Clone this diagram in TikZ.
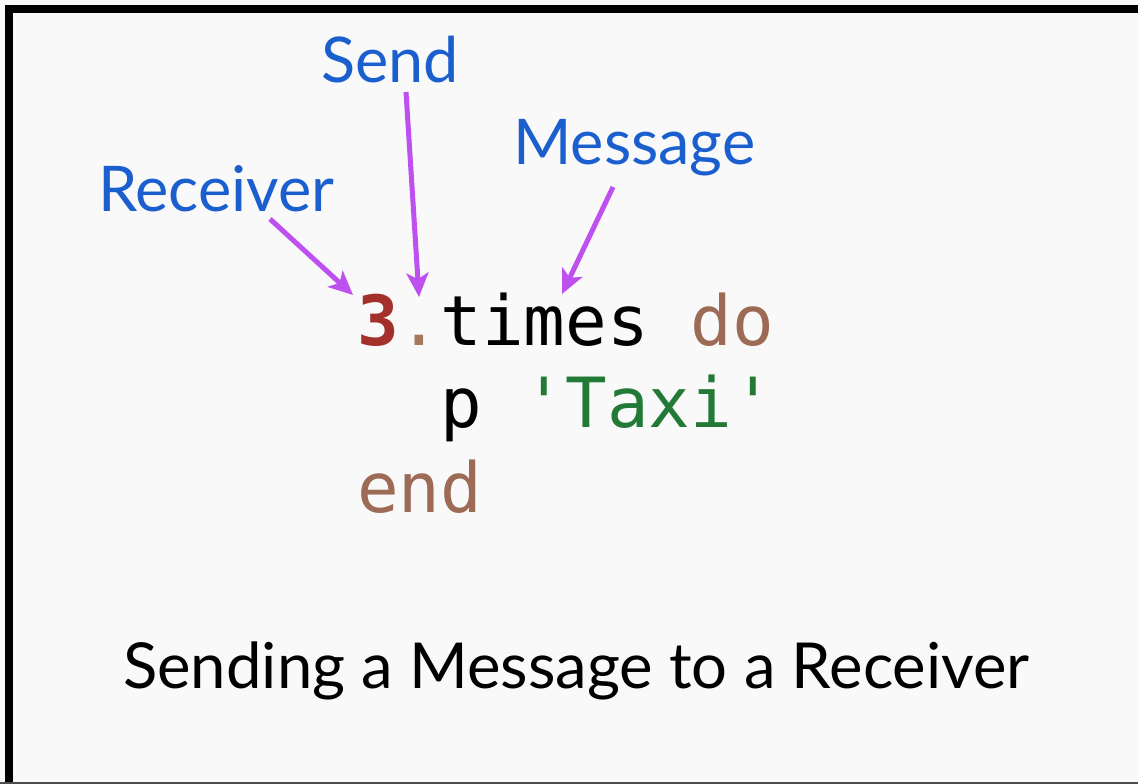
\documentclass[tikz,border=0pt]{standalone}
\usepackage{fontspec}
\setmainfont{Lato}
\setmonofont{DejaVu Sans Mono}
\usetikzlibrary{arrows.meta}
\definecolor{paper}{HTML}{F9F9F9}
\definecolor{labelblue}{HTML}{1B5FCF}
\definecolor{ptrpurple}{HTML}{BE50F0}
\definecolor{numred}{HTML}{A3302B}
\definecolor{dotbrown}{HTML}{A8785E}
\definecolor{kwbrown}{HTML}{9C6A55}
\definecolor{strgreen}{HTML}{237A37}
\tikzset{
  lbl/.style={anchor=base west, inner sep=0pt, text=labelblue, font=\fontsize{63}{70}\selectfont},
  code/.style={anchor=base west, inner sep=0pt, font=\ttfamily\fontsize{69.2}{80}\selectfont},
  caption/.style={anchor=base west, inner sep=0pt, font=\fontsize{63.4}{70}\selectfont},
  ptr/.style={draw=ptrpurple, line width=5pt, -{Stealth[length=24pt,width=22pt,inset=6pt]}},
}
\begin{document}
\begin{tikzpicture}[x=1pt,y=-1pt]
  % page and frame
  \fill[paper] (0,0) rectangle (1138,784);
  \useasboundingbox (0,0) rectangle (1138,784);
  \fill[black] (5,5) rectangle (1138,13);
  \fill[black] (5,5) rectangle (13,784);
  \fill[black!70] (0,781.5) rectangle (1138,784);

  % labels
  \node[lbl] (send) at (321,83) {Send};
  \node[lbl] (msg) at (513,164) {Message};
  \node[lbl] (recv) at (98,211) {Receiver};

  % code block
  \node[code] (l1) at (357,345) {{\color{numred}\bfseries 3}{\color{dotbrown}.}times {\color{kwbrown}do}};
  \node[code] (l2) at (440.3,427) {p {\color{strgreen}'Taxi'}};
  \node[code, text=kwbrown] (l3) at (357,512) {end};

  % caption
  \node[caption] (cap) at (123,688) {Sending a Message to a Receiver};

  % pointers
  \coordinate (recvTail) at (270,219);
  \coordinate (recvTip) at (353,295);
  \coordinate (sendTail) at (406,92);
  \coordinate (sendTip) at (419,297);
  \coordinate (msgTail) at (613,187);
  \coordinate (msgTip) at (562,294);
  \draw[ptr] (recvTail) -- (recvTip);
  \draw[ptr] (sendTail) -- (sendTip);
  \draw[ptr] (msgTail) -- (msgTip);
\end{tikzpicture}
\end{document}
